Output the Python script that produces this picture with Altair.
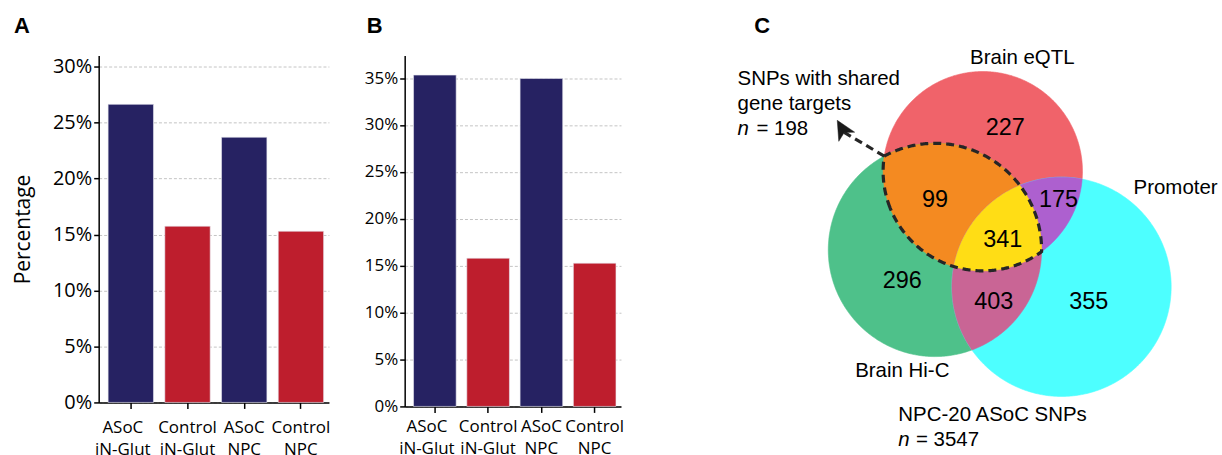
import altair as alt
import numpy as np
import pandas as pd

# ---------------- bar panels (A, B) ----------------
groups = ["ASoC iN-Glut", "Control iN-Glut", "ASoC NPC", "Control NPC"]
kinds = ["ASoC", "Control", "ASoC", "Control"]
pct_a = [26.64, 15.75, 23.70, 15.30]
pct_b = [35.32, 15.80, 34.96, 15.27]
ticks_a = [0, 5, 10, 15, 20, 25, 30]
ticks_b = [0, 5, 10, 15, 20, 25, 30, 35]
kind_names = ["ASoC", "Control"]
kind_colors = ["#262262", "#BE1E2D"]

# ---------------- Venn panel (C) ----------------
set_names = ["Brain eQTL", "Brain Hi-C", "Promoter"]
region_members = [
    ["Brain eQTL"],
    ["Brain Hi-C"],
    ["Promoter"],
    ["Brain eQTL", "Brain Hi-C"],
    ["Brain eQTL", "Promoter"],
    ["Brain Hi-C", "Promoter"],
    ["Brain eQTL", "Brain Hi-C", "Promoter"],
]
region_counts = [227, 296, 355, 99, 175, 403, 341]
region_colors = ["#F0636A", "#4EC18A", "#4DFFFF", "#F48A21", "#AD60CF", "#C96595", "#FFDD15"]
shared_n = 198
total_n = 3547

# layout of the page
PAD_TOP = 14
PAD_LEFT = 12
SPACING = 34
PLOT_TOP = 55          # page y of every panel's plot-area top edge
C_LEFT = 656           # page x of the Venn view's left edge
PAGE_W, PAGE_H = 1222, 455

# circle geometry of the Venn diagram (page pixels): centre x, centre y, radius
circle_geom = {
    "Brain eQTL": (982.0, 171.0, 100.0),
    "Brain Hi-C": (934.0, 250.0, 107.0),
    "Promoter": (1061.0, 287.0, 110.0),
}
# baseline anchor of each region count
count_anchor = [(1004.5, 135), (901.3, 288.3), (1088.3, 309.3), (934, 206.7),
                (1058, 206.7), (993, 309.3), (1002, 246.7)]
set_label_anchor = {"Brain eQTL": (969.3, 63.3),
                    "Brain Hi-C": (854.0, 377.3),
                    "Promoter": (1133.3, 194.0)}

FONT_BAR = "Open Sans"
FONT_VENN = "Liberation Sans"

# first category label sits a little left of its tick
first_label_shift = {"condition": {"test": "datum.value === 'ASoC iN-Glut'", "value": -8}, "value": 0}


def bar_panel(letter, values, ticks, ymax, width, height, tick_font, letter_dx, ytitle, xpad):
    df = pd.DataFrame({"group": groups, "kind": kinds, "pct": values})
    yaxis_kw = dict(values=ticks, labelExpr="datum.value + '%'", labelFontSize=tick_font,
                    grid=True, gridDash=[3, 2], gridColor="#c4c4c4", gridWidth=1,
                    tickSize=5, labelPadding=2, domainWidth=1.5, tickWidth=1.5)
    if ytitle:
        yaxis_kw.update(title=ytitle, titleFontSize=21, titleFontWeight="normal", titlePadding=19)
    else:
        yaxis_kw.update(title=None)
    bars = alt.Chart(df).mark_bar(stroke="#e8e8f0", strokeWidth=0.6).encode(
        x=alt.X("group:N", sort=groups,
                scale=alt.Scale(paddingInner=0.2, paddingOuter=0.13, align=0.64),
                axis=alt.Axis(title=None, labelAngle=0, labelExpr="split(datum.value, ' ')",
                              labelFontSize=17, labelLineHeight=22, labelPadding=xpad,
                              labelOffset=first_label_shift,
                              tickSize=6, domainWidth=1.5, tickWidth=1.5, grid=False)),
        y=alt.Y("pct:Q", scale=alt.Scale(domain=[0, ymax], nice=False),
                axis=alt.Axis(**yaxis_kw)),
        color=alt.Color("kind:N", scale=alt.Scale(domain=kind_names, range=kind_colors), legend=None),
    )
    tag = alt.Chart(pd.DataFrame({"t": [letter]})).mark_text(
        align="left", baseline="alphabetic", font=FONT_VENN, fontSize=22, fontWeight="bold", color="black"
    ).encode(text="t:N", x=alt.value(letter_dx), y=alt.value(-23))
    return alt.layer(bars, tag).properties(width=width, height=height)


panel_a = bar_panel("A", pct_a, ticks_a, 31, 231, 348, 20, 12 - 97, "Percentage", 11)
panel_b = bar_panel("B", pct_b, ticks_b, 37.4, 217, 352, 17, 365 - 403, None, 6)


# ---- Venn geometry ----
def ring(name, n=720):
    x0, y0, r = circle_geom[name]
    t = np.linspace(0, 2 * np.pi, n, endpoint=False)
    return np.c_[x0 + r * np.cos(t), y0 + r * np.sin(t)]


def inside(p, name, tol=1e-6):
    x0, y0, r = circle_geom[name]
    return (p[:, 0] - x0) ** 2 + (p[:, 1] - y0) ** 2 <= r * r * (1 + tol)


def crossings(a, b):
    x1, y1, r1 = circle_geom[a]
    x2, y2, r2 = circle_geom[b]
    d = np.hypot(x2 - x1, y2 - y1)
    s = (r1 ** 2 - r2 ** 2 + d ** 2) / (2 * d)
    h = np.sqrt(max(r1 ** 2 - s ** 2, 0))
    px, py = x1 + s * (x2 - x1) / d, y1 + s * (y2 - y1) / d
    ux, uy = -(y2 - y1) / d, (x2 - x1) / d
    return np.array([[px + h * ux, py + h * uy], [px - h * ux, py - h * uy]])


def common_area(names):
    """Boundary of the intersection of the given discs (convex), as a closed ring."""
    pts = []
    for k in names:
        p = ring(k)
        m = np.ones(len(p), bool)
        for o in names:
            if o != k:
                m &= inside(p, o)
        pts.append(p[m])
    for i, a in enumerate(names):
        for b in names[i + 1:]:
            c = crossings(a, b)
            m = np.ones(len(c), bool)
            for o in names:
                if o not in (a, b):
                    m &= inside(c, o, tol=1e-4)
            pts.append(c[m])
    P = np.vstack(pts)
    ctr = P.mean(axis=0)
    P = P[np.argsort(np.arctan2(P[:, 1] - ctr[1], P[:, 0] - ctr[0]))]
    return P.tolist() + [P[0].tolist()]


def feature(geom_type, coords, **props):
    return {"type": "Feature", "geometry": {"type": geom_type, "coordinates": coords}, "properties": props}


# discs first, then pairwise overlaps, then the triple overlap on top
region_features = [
    feature("Polygon", [common_area(m)], fill=c, count=n)
    for m, c, n in sorted(zip(region_members, region_colors, region_counts), key=lambda z: len(z[0]))
]

shared_ring = common_area(["Brain eQTL", "Brain Hi-C"])
start = crossings("Brain eQTL", "Brain Hi-C")
start = start[np.argmin(start[:, 1])]

# arrow head: tip, pointing direction, length, half width, notch depth
tip = np.array([836.0, 120.0])
u = np.array([-0.5, -0.866])
head_len, head_half, notch = 19.0, 9.2, 5.0
v = np.array([-u[1], u[0]])
back = tip - head_len * u
notch_pt = tip - (head_len - notch) * u
head = [tip.tolist(), (back + head_half * v).tolist(), notch_pt.tolist(),
        (back - head_half * v).tolist(), tip.tolist()]

proj = dict(type="identity", scale=1, translate=[-C_LEFT, -PLOT_TOP])
C_W, C_H = PAGE_W - C_LEFT, PAGE_H - PLOT_TOP

fills = alt.Chart(alt.Data(values=region_features)).mark_geoshape(strokeWidth=0.6, clip=False).encode(
    color=alt.Color("properties.fill:N", scale=None),
    stroke=alt.Stroke("properties.fill:N", scale=None),
).project(**proj)

outline = alt.Chart(alt.Data(values=[feature("LineString", shared_ring)])).mark_geoshape(
    filled=False, stroke="#262626", strokeWidth=3.2, strokeDash=[8, 5], clip=False
).project(**proj)

shaft = alt.Chart(alt.Data(values=[feature("LineString", [start.tolist(), notch_pt.tolist()])])).mark_geoshape(
    filled=False, stroke="#262626", strokeWidth=3.2, strokeDash=[8, 5], clip=False
).project(**proj)

arrow_head = alt.Chart(alt.Data(values=[feature("Polygon", [head])])).mark_geoshape(
    fill="#1a1a1a", stroke="#1a1a1a", strokeWidth=0.5, clip=False
).project(**proj)

count_df = pd.DataFrame({
    "lon": [p[0] for p in count_anchor],
    "lat": [p[1] for p in count_anchor],
    "label": [str(n) for n in region_counts],
})
counts = alt.Chart(count_df).mark_text(
    align="center", baseline="alphabetic", font=FONT_VENN, fontSize=23.5, color="black", clip=False
).encode(longitude="lon:Q", latitude="lat:Q", text="label:N").project(**proj)

label_rows = [{"lon": set_label_anchor[s][0], "lat": set_label_anchor[s][1], "label": s} for s in set_names]
label_rows += [
    {"lon": 736.0, "lat": 85.0, "label": "SNPs with shared"},
    {"lon": 736.0, "lat": 110.0, "label": "gene targets"},
    {"lon": 755.0, "lat": 135.0, "label": f"= {shared_n}"},
    {"lon": 897.3, "lat": 421.7, "label": "NPC-20 ASoC SNPs"},
    {"lon": 915.0, "lat": 446.7, "label": f"= {total_n}"},
]
labels = alt.Chart(pd.DataFrame(label_rows)).mark_text(
    align="left", baseline="alphabetic", font=FONT_VENN, fontSize=20.5, color="black", clip=False
).encode(longitude="lon:Q", latitude="lat:Q", text="label:N").project(**proj)

italic_n = alt.Chart(pd.DataFrame({"lon": [736.0, 897.3], "lat": [135.0, 446.7], "label": ["n", "n"]})).mark_text(
    align="left", baseline="alphabetic", font=FONT_VENN, fontSize=20.5, fontStyle="italic", color="black",
    clip=False
).encode(longitude="lon:Q", latitude="lat:Q", text="label:N").project(**proj)

tag_c = alt.Chart(pd.DataFrame({"lon": [752.7], "lat": [32.0], "t": ["C"]})).mark_text(
    align="left", baseline="alphabetic", font=FONT_VENN, fontSize=22, fontWeight="bold", color="black",
    clip=False
).encode(longitude="lon:Q", latitude="lat:Q", text="t:N").project(**proj)

panel_c = alt.layer(fills, outline, shaft, arrow_head, counts, labels, italic_n, tag_c).properties(
    width=C_W, height=C_H
)

chart = alt.hconcat(panel_a, panel_b, panel_c, spacing=SPACING).properties(
    padding={"top": PAD_TOP, "left": PAD_LEFT, "right": 0, "bottom": 0},
    background="white",
).configure_view(strokeWidth=0).configure_axis(
    domainColor="black", tickColor="black", labelColor="black", titleColor="black",
    labelFont=FONT_BAR, titleFont=FONT_BAR,
)

chart.save("out.html", embed_options={"renderer": "svg", "actions": False})
